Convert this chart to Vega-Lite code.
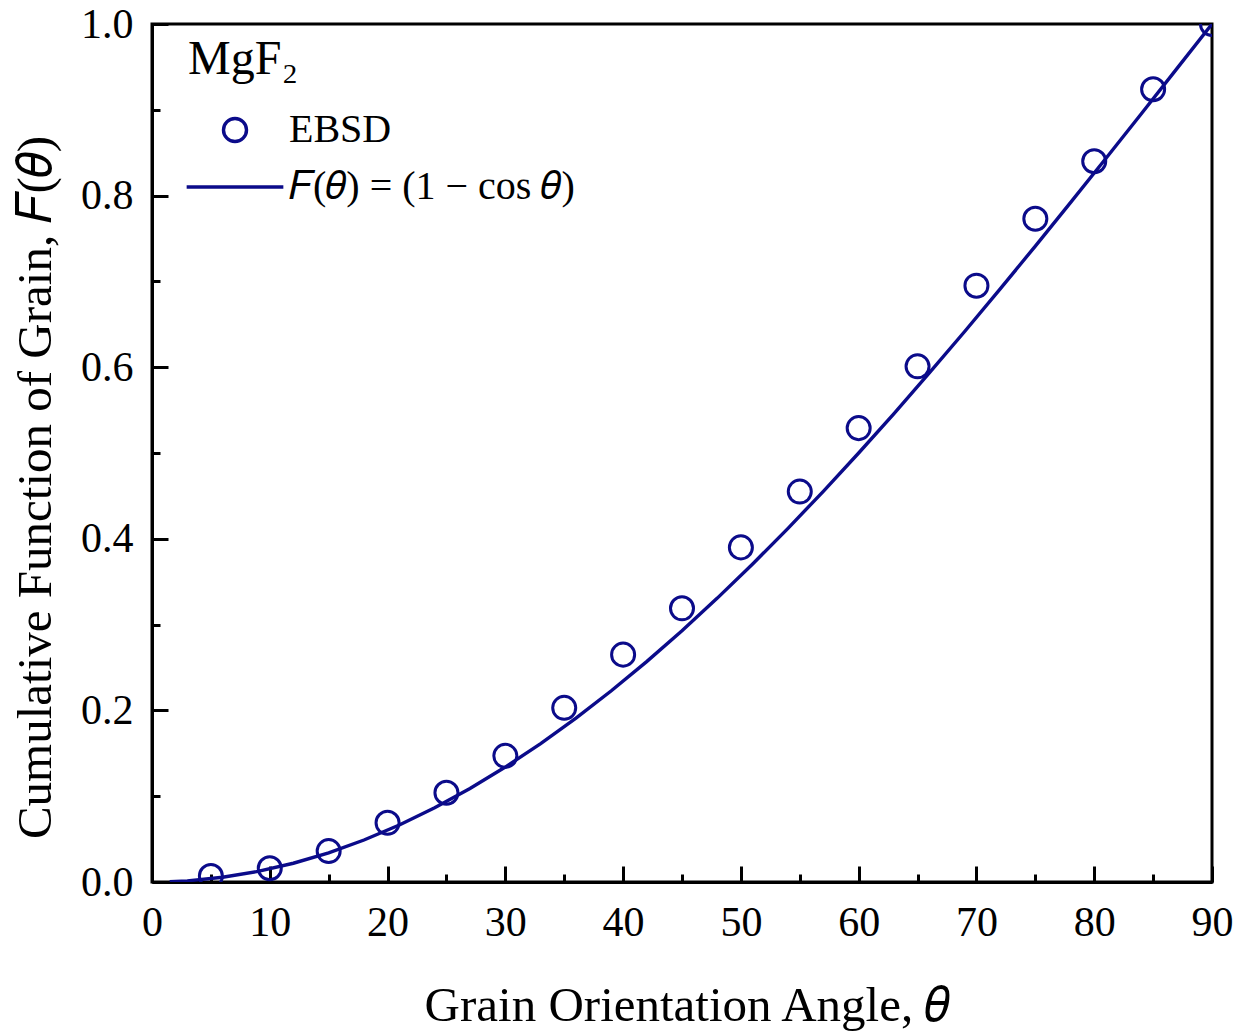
{
  "$schema": "https://vega.github.io/schema/vega-lite/v6.json",
  "autosize": "none",
  "width": 1060,
  "height": 858,
  "padding": {"left": 152, "top": 24, "right": 34, "bottom": 152},
  "background": "white",
  "config": {
    "view": {"stroke": "black", "strokeWidth": 3},
    "font": "Liberation Serif",
    "axis": {"grid": false, "labelFlush": false, "domainColor": "black", "domainWidth": 3, "tickColor": "black", "tickWidth": 3, "labelColor": "black", "titleColor": "black", "labelFont": "Liberation Serif", "titleFont": "Liberation Serif", "labelFontSize": 42, "titleFontSize": 49, "titleFontWeight": "normal"}
  },
  "datasets": {
    "ebsd": [
      {"theta": 5, "F": 0.007, "series": "EBSD"},
      {"theta": 10, "F": 0.016, "series": "EBSD"},
      {"theta": 15, "F": 0.036, "series": "EBSD"},
      {"theta": 20, "F": 0.069, "series": "EBSD"},
      {"theta": 25, "F": 0.104, "series": "EBSD"},
      {"theta": 30, "F": 0.147, "series": "EBSD"},
      {"theta": 35, "F": 0.203, "series": "EBSD"},
      {"theta": 40, "F": 0.265, "series": "EBSD"},
      {"theta": 45, "F": 0.319, "series": "EBSD"},
      {"theta": 50, "F": 0.390, "series": "EBSD"},
      {"theta": 55, "F": 0.455, "series": "EBSD"},
      {"theta": 60, "F": 0.529, "series": "EBSD"},
      {"theta": 65, "F": 0.601, "series": "EBSD"},
      {"theta": 70, "F": 0.695, "series": "EBSD"},
      {"theta": 75, "F": 0.773, "series": "EBSD"},
      {"theta": 80, "F": 0.840, "series": "EBSD"},
      {"theta": 85, "F": 0.924, "series": "EBSD"},
      {"theta": 90, "F": 1.0, "series": "EBSD"}
    ],
    "fit": [
      {"theta": 1.5, "F": 0.00034},
      {"theta": 3, "F": 0.00137},
      {"theta": 6, "F": 0.00548},
      {"theta": 9, "F": 0.01231},
      {"theta": 12, "F": 0.02185},
      {"theta": 15, "F": 0.03407},
      {"theta": 18, "F": 0.04894},
      {"theta": 21, "F": 0.06642},
      {"theta": 24, "F": 0.08645},
      {"theta": 27, "F": 0.10899},
      {"theta": 30, "F": 0.13397},
      {"theta": 33, "F": 0.16133},
      {"theta": 36, "F": 0.19098},
      {"theta": 39, "F": 0.22285},
      {"theta": 42, "F": 0.25686},
      {"theta": 45, "F": 0.29289},
      {"theta": 48, "F": 0.33087},
      {"theta": 51, "F": 0.37068},
      {"theta": 54, "F": 0.41221},
      {"theta": 57, "F": 0.45536},
      {"theta": 60, "F": 0.5},
      {"theta": 63, "F": 0.54601},
      {"theta": 66, "F": 0.59326},
      {"theta": 69, "F": 0.64163},
      {"theta": 72, "F": 0.69098},
      {"theta": 75, "F": 0.74118},
      {"theta": 78, "F": 0.79209},
      {"theta": 81, "F": 0.84357},
      {"theta": 84, "F": 0.89547},
      {"theta": 87, "F": 0.94766},
      {"theta": 90, "F": 1.0}
    ]
  },
  "resolve": {"axis": {"x": "independent", "y": "independent"}},
  "layer": [
    {
      "data": {"name": "fit"},
      "mark": {"type": "line", "color": "#0b0b8a", "strokeWidth": 3.4, "clip": true},
      "encoding": {
        "x": {"field": "theta", "type": "quantitative", "scale": {"domain": [0, 90], "nice": false},
          "axis": {"orient": "bottom", "values": [5, 15, 25, 35, 45, 55, 65, 75, 85], "tickSize": -8, "labels": false, "domain": false, "title": null}},
        "y": {"field": "F", "type": "quantitative", "scale": {"domain": [0, 1], "nice": false},
          "axis": {"orient": "left", "values": [0.1, 0.3, 0.5, 0.7, 0.9], "tickSize": -8, "labels": false, "domain": false, "title": null}}
      }
    },
    {
      "data": {"name": "ebsd"},
      "mark": {"type": "point", "filled": false, "color": "#0b0b8a", "strokeWidth": 3, "size": 530, "opacity": 1, "clip": true},
      "encoding": {
        "x": {"field": "theta", "type": "quantitative",
          "axis": {"orient": "bottom", "values": [0, 10, 20, 30, 40, 50, 60, 70, 80, 90], "tickSize": -16, "labelPadding": 36, "labelFlush": false, "title": "Grain Orientation Angle, 𝜃", "titlePadding": 38, "titleX": 535}},
        "y": {"field": "F", "type": "quantitative",
          "axis": {"orient": "left", "values": [0, 0.2, 0.4, 0.6, 0.8, 1.0], "format": ".1f", "tickSize": -16, "labelPadding": 35, "labelFlush": false, "title": "Cumulative Function of Grain, 𝐹(𝜃)", "titlePadding": 20, "titleY": 463}},
        "shape": {"field": "series", "type": "nominal",
          "scale": {"domain": ["EBSD", "𝐹(𝜃) = (1 − cos 𝜃)"], "range": ["circle", "M-4.2,0H4.2"]},
          "legend": {"orient": "none", "legendX": 36, "legendY": 12, "title": "MgF₂", "titleFont": "Liberation Serif", "titleFontSize": 48, "titleFontWeight": "normal", "titleColor": "black", "titlePadding": 26, "labelFont": "Liberation Serif", "labelFontSize": 40, "labelColor": "black", "labelLimit": 600, "labelOffset": 34, "symbolOffset": 27, "symbolSize": 530, "symbolStrokeWidth": 3.4, "symbolStrokeColor": "#0b0b8a", "symbolFillColor": "transparent", "rowPadding": 17}}
      }
    }
  ]
}
